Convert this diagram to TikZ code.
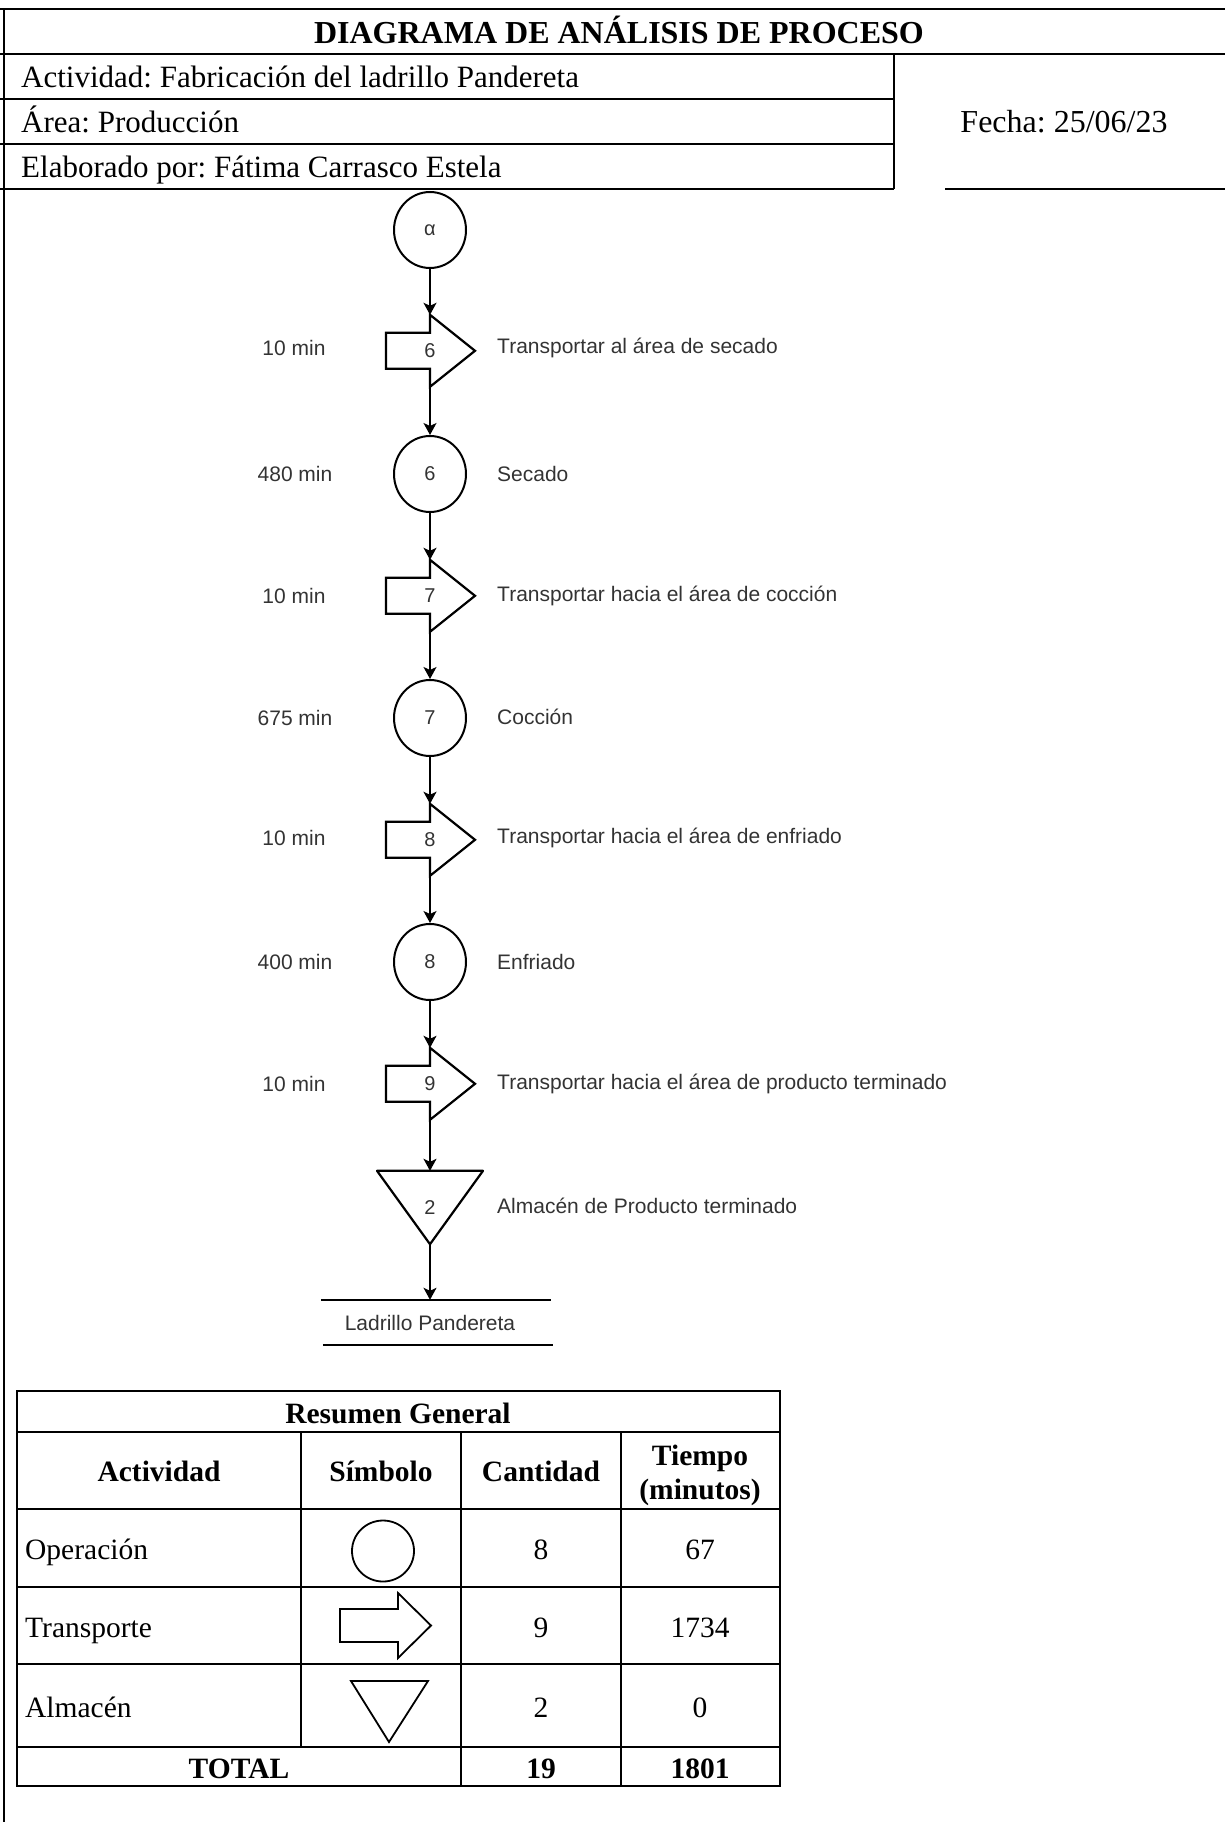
\documentclass[tikz,border=0pt]{standalone}
\usepackage{fontspec}
\setmainfont{Liberation Serif}
\newfontfamily\arialfont{Liberation Sans}
\usetikzlibrary{shapes.geometric,arrows.meta,calc}
\frenchspacing
\tikzset{
  hd/.style={font=\fontsize{31}{37}\selectfont, inner sep=0pt, anchor=base},
  tb/.style={font=\fontsize{29.5}{34}\selectfont, inner sep=0pt, anchor=base},
  tbb/.style={font=\fontsize{29.5}{34}\selectfont\bfseries, inner sep=0pt, anchor=base},
  ftxt/.style={font=\arialfont\fontsize{21}{25}\selectfont, text=black!80, inner sep=0pt},
  opnode/.style={ellipse, draw, line width=2pt, minimum width=72pt, minimum height=76pt, inner sep=0pt,
    font=\arialfont\fontsize{20}{24}\selectfont, text=black!80},
  trnode/.style={minimum width=0pt, minimum height=72pt, inner sep=0pt,
    font=\arialfont\fontsize{20}{24}\selectfont, text=black!80},
  stnode/.style={minimum width=0pt, minimum height=73pt, inner sep=0pt,
    font=\arialfont\fontsize{20}{24}\selectfont, text=black!80},
  shp/.style={draw, line width=2.2pt, line join=miter},
  conn/.style={line width=1.6pt, -{Stealth[length=12pt,width=13pt,inset=3pt]}},
  frame/.style={line width=2.4pt},
  grid/.style={line width=2pt},
}
\newcommand\drawtransport[1]{%
  \draw[shp] (#1.north) -- ++(45,36) -- ++(-45,36) -- ++(0,-18) -- ++(-44,0) -- ++(0,-36) -- ++(44,0) -- cycle;}
\begin{document}
\begin{tikzpicture}[x=1pt,y=-1pt]
\useasboundingbox (0,0) rectangle (1225,1822);
% ---------------- header ----------------
\draw[frame] (0,9) -- (1225,9);
\draw[frame] (0,54) -- (1225,54);
\draw[frame] (0,99) -- (894,99);
\draw[frame] (0,144) -- (894,144);
\draw[frame] (0,189) -- (894,189);
\draw[frame] (945,189) -- (1225,189);
\draw[frame] (894,54) -- (894,189);
\draw[frame] (4,9) -- (4,1822);
\node[hd, font=\fontsize{32}{38}\selectfont\bfseries] (title) at (619,44) {DIAGRAMA DE ANÁLISIS DE PROCESO};
\node[hd, anchor=base west] (act) at (21,88) {Actividad: Fabricación del ladrillo Pandereta};
\node[hd, anchor=base west] (area) at (21,133) {Área: Producción};
\node[hd, anchor=base west] (elab) at (21,178) {Elaborado por: Fátima Carrasco Estela};
\node[hd, font=\fontsize{32}{38}\selectfont] (fecha) at (1064,133) {Fecha: 25/06/23};
% ---------------- flow ----------------
\node[opnode] (alpha) at (430,230) {α};
\node[trnode] (t6) at (430,351) {6};
\drawtransport{t6}
\node[opnode] (c6) at (430,474) {6};
\node[trnode] (t7) at (430,596) {7};
\drawtransport{t7}
\node[opnode] (c7) at (430,718) {7};
\node[trnode] (t8) at (430,840) {8};
\drawtransport{t8}
\node[opnode] (c8) at (430,962) {8};
\node[trnode] (t9) at (430,1084) {9};
\drawtransport{t9}
\node[stnode] (s2) at (430,1207.5) {2};
\draw[shp, line join=round] (s2.north) ++(-53,0) -- ++(106,0) -- (s2.south) -- cycle;
\node[ftxt, minimum width=230pt, minimum height=45pt] (prod) at (430,1322.5) {Ladrillo Pandereta};
\draw[line width=1.6pt] ($(prod.north west)+(6,0)$) -- ($(prod.north east)+(6,0)$);
\draw[line width=1.6pt] ($(prod.south west)+(8,0)$) -- ($(prod.south east)+(8,0)$);

\draw[conn] (alpha) -- (t6.north);
\draw[conn] (t6.south) -- (c6);
\draw[conn] (c6) -- (t7.north);
\draw[conn] (t7.south) -- (c7);
\draw[conn] (c7) -- (t8.north);
\draw[conn] (t8.south) -- (c8);
\draw[conn] (c8) -- (t9.north);
\draw[conn] (t9.south) -- (s2.north);
\draw[conn] (s2.south) -- (prod.north -| s2.south);

% times
\node[ftxt] (m6) at (294,348) {10 min};
\node[ftxt] (m6b) at (295,474) {480 min};
\node[ftxt] (m7) at (294,596) {10 min};
\node[ftxt] (m7b) at (295,718) {675 min};
\node[ftxt] (m8) at (294,838) {10 min};
\node[ftxt] (m8b) at (295,962) {400 min};
\node[ftxt] (m9) at (294,1084) {10 min};
% descriptions
\node[ftxt, anchor=west] (d6) at (497,348) {Transportar al área de secado};
\node[ftxt, anchor=west] (d6b) at (497,474) {Secado};
\node[ftxt, anchor=west] (d7) at (497,596) {Transportar hacia el área de cocción};
\node[ftxt, anchor=west] (d7b) at (497,717) {Cocción};
\node[ftxt, anchor=west] (d8) at (497,838) {Transportar hacia el área de enfriado};
\node[ftxt, anchor=west] (d8b) at (497,962) {Enfriado};
\node[ftxt, anchor=west] (d9) at (497,1084) {Transportar hacia el área de producto terminado};
\node[ftxt, anchor=west] (d2) at (497,1206) {Almacén de Producto terminado};

% ---------------- summary table ----------------
\draw[frame] (17,1391) rectangle (780,1786);
\draw[grid] (17,1432) -- (780,1432);
\draw[grid] (17,1509) -- (780,1509);
\draw[grid] (17,1587) -- (780,1587);
\draw[grid] (17,1664) -- (780,1664);
\draw[frame] (17,1747) -- (780,1747);
\draw[grid] (301,1432) -- (301,1747);
\draw[grid] (461,1432) -- (461,1786);
\draw[grid] (621,1432) -- (621,1786);

\node[tbb] (rg) at (398,1423) {Resumen General};
\node[tbb] (h1) at (159,1481) {Actividad};
\node[tbb] (h2) at (381,1481) {Símbolo};
\node[tbb] (h3) at (541,1481) {Cantidad};
\node[tbb] (h4a) at (700,1465) {Tiempo};
\node[tbb] (h4b) at (700,1499) {(minutos)};

\node[tb, anchor=base west] (r1) at (25,1559) {Operación};
\node[tb, anchor=base west] (r2) at (25,1637) {Transporte};
\node[tb, anchor=base west] (r3) at (25,1717) {Almacén};
\node[tb] (q1) at (541,1559) {8};
\node[tb] (q2) at (541,1637) {9};
\node[tb] (q3) at (541,1717) {2};
\node[tb] (v1) at (700,1559) {67};
\node[tb] (v2) at (700,1637) {1734};
\node[tb] (v3) at (700,1717) {0};
\node[tbb] (tt) at (239,1778) {TOTAL};
\node[tbb] (tq) at (541,1778) {19};
\node[tbb] (tv) at (700,1778) {1801};

% symbols in table
\draw[line width=1.8pt] (383,1551) ellipse [x radius=31, y radius=30.5];
\draw[line width=1.8pt] (340,1609) -- (398,1609) -- (398,1593) -- (431,1625.5) -- (398,1658) -- (398,1642) -- (340,1642) -- cycle;
\draw[line width=1.8pt] (351,1681) -- (428,1681) -- (389,1742) -- cycle;
\end{tikzpicture}
\end{document}
